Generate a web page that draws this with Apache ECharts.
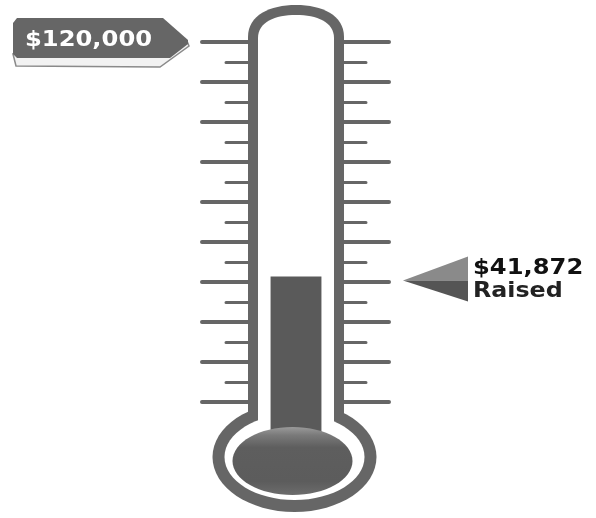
<!DOCTYPE html>
<html>
<head>
<meta charset="utf-8">
<script src="https://cdn.jsdelivr.net/npm/echarts@6/dist/echarts.min.js"></script>
<style>
html,body{margin:0;padding:0;background:#fff;}
#chart{width:596px;height:518px;}
</style>
</head>
<body>
<div id="chart"></div>
<script>
// ---- data ----
const categories = ['Raised'];
const raised = [41872];
const goal = 120000;
const goalLabel = '$120,000';
const raisedLabels = ['$41,872', 'Raised'];
const majorTickValues = [0, 13333, 26667, 40000, 53333, 66667, 80000, 93333, 106667, 120000];
const minorTickValues = [6667, 20000, 33333, 46667, 60000, 73333, 86667, 100000, 113333];
const axisMin = -20000; // stem of the bulb below the zero mark

const chart = echarts.init(document.getElementById('chart'), null, {renderer: 'canvas'});
const GRAY = '#666666';
const FONT = 'DejaVu Sans';

function tickAxis(position, len, values, width) {
  return {
    type: 'value', min: axisMin, max: goal, position: position, z: 8,
    axisLine: {show: false}, splitLine: {show: false}, axisLabel: {show: false},
    axisTick: {show: true, inside: false, length: len, customValues: values,
      lineStyle: {color: GRAY, width: width, cap: 'round'}}
  };
}

const ballGradient = new echarts.graphic.LinearGradient(0, 0, 0, 1, [
  {offset: 0, color: '#9a9a9a'},
  {offset: 0.12, color: '#7a7a7a'},
  {offset: 0.3, color: '#5e5e5e'},
  {offset: 0.8, color: '#5c5c5c'},
  {offset: 1, color: '#6c6c6c'}
]);

const option = {
  backgroundColor: '#ffffff',
  animation: false,
  grid: {left: 248, right: 252, top: 42, bottom: 56},
  xAxis: {type: 'category', data: categories, show: false},
  yAxis: [
    tickAxis('left', 46, majorTickValues, 4),
    tickAxis('left', 22, minorTickValues, 3),
    tickAxis('right', 45, majorTickValues, 4),
    tickAxis('right', 22, minorTickValues, 3)
  ],
  graphic: [
    // goal label
    {type: 'polygon', z: 10, shape: {points: [[13, 54], [16, 66], [160, 67], [189, 46], [187, 41]]},
      style: {fill: '#f2f2f2', stroke: '#8a8a8a', lineWidth: 1.5}},
    {type: 'polygon', z: 11, shape: {points: [[13, 23], [17, 18], [163, 18], [188, 40], [188, 44], [170, 58], [17, 58], [13, 54]]},
      style: {fill: GRAY}},
    {type: 'text', z: 12, x: 25, y: 40, scaleX: 1.1,
      style: {text: goalLabel, x: 0, y: 0, verticalAlign: 'middle',
      font: 'bold 22px "' + FONT + '"', fill: '#ffffff'}}
  ],
  series: [{
    type: 'custom',
    z: 5,
    coordinateSystem: 'cartesian2d',
    data: categories.map((c, i) => [i, raised[i]]),
    renderItem: function (params, api) {
      const top = api.coord([api.value(0), api.value(1)]);
      const base = api.coord([api.value(0), axisMin]);
      const w = api.size([1, 0])[0] * 0.53;
      const yc = top[1] + 4;
      return {
        type: 'group',
        children: [
          // tube and bulb outline
          {type: 'ellipse', shape: {cx: 294.5, cy: 457, rx: 82, ry: 55}, style: {fill: GRAY}},
          {type: 'path', shape: {pathData: 'M248,440 L248,37 C248,15 270,5 296,5 C322,5 344,15 344,37 L344,440 Z'}, style: {fill: GRAY}},
          {type: 'ellipse', shape: {cx: 294.5, cy: 457, rx: 70, ry: 43}, style: {fill: '#ffffff'}},
          {type: 'path', shape: {pathData: 'M258,448 L258,38 C258,22 275,15 296,15 C317,15 334,22 334,38 L334,448 Z'}, style: {fill: '#ffffff'}},
          // mercury column
          {type: 'rect', shape: {x: top[0] - w / 2, y: top[1], width: w, height: base[1] - top[1]},
            style: {fill: '#5a5a5a'}},
          // bulb ball
          {type: 'ellipse', shape: {cx: 292.5, cy: 461, rx: 60, ry: 34}, style: {fill: ballGradient}},
          // raised arrow + label
          {type: 'polygon', shape: {points: [[403, yc], [468, yc - 24], [468, yc]]}, style: {fill: '#8a8a8a'}},
          {type: 'polygon', shape: {points: [[403, yc], [468, yc], [468, yc + 21]]}, style: {fill: '#555555'}},
          {type: 'text', x: 473, y: yc - 12, scaleX: 1.1,
            style: {text: raisedLabels[0], x: 0, y: 0, verticalAlign: 'middle',
            font: 'bold 22px "' + FONT + '"', fill: '#111111'}},
          {type: 'text', x: 473, y: yc + 11, scaleX: 1.08,
            style: {text: raisedLabels[1], x: 0, y: 0, verticalAlign: 'middle',
            font: 'bold 22px "' + FONT + '"', fill: '#222222'}}
        ]
      };
    }
  }]
};
chart.setOption(option);
</script>
</body>
</html>
